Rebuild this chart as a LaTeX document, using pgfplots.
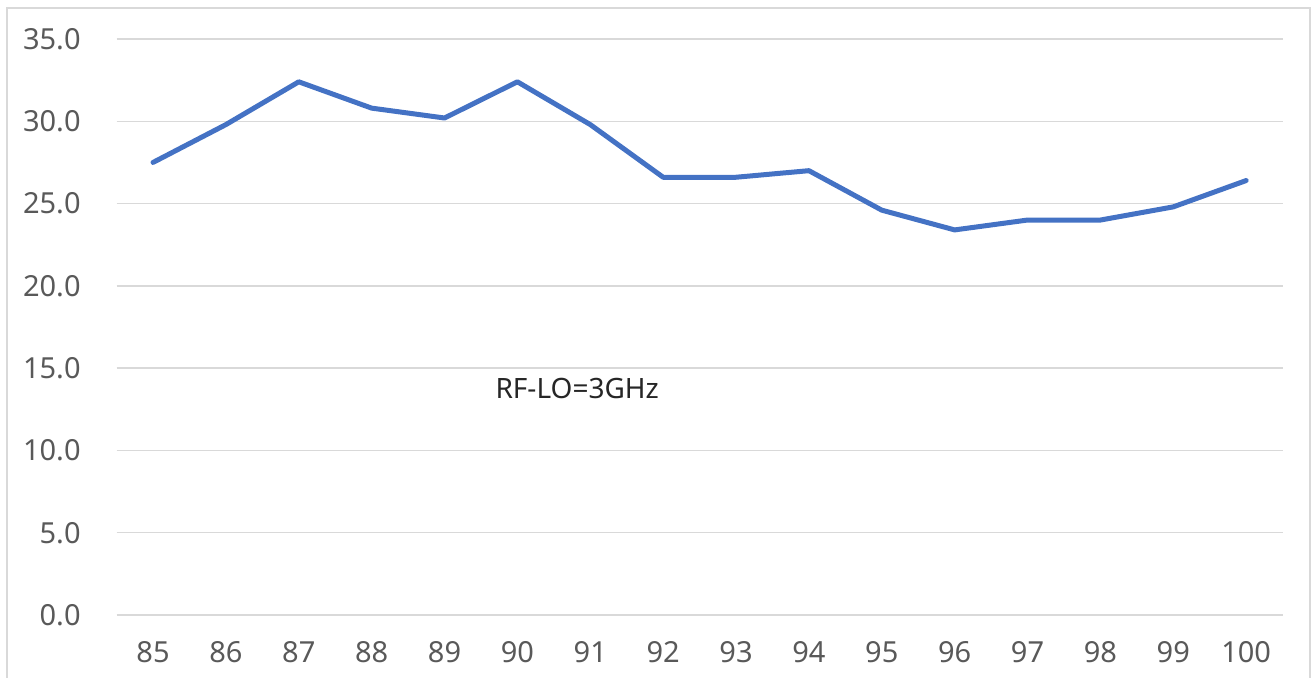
\documentclass[border=0pt]{standalone}
\usepackage{pgfplots}
\pgfplotsset{compat=1.18}
\usepackage{fontspec}
\setmainfont{Noto Sans}
\definecolor{linec}{HTML}{4472C4}
\definecolor{gridc}{HTML}{D9D9D9}
\definecolor{tickc}{HTML}{595959}
\begin{document}
\begin{tikzpicture}
\path[use as bounding box] (-58.3pt,-31pt) rectangle (597.7pt,307.5pt);
\draw[gridc, line width=0.75pt] (-54.8pt,-40pt) -- (-54.8pt,303.5pt) -- (596.7pt,303.5pt) -- (596.7pt,-40pt);
\begin{axis}[
  at={(0,0)}, anchor=south west,
  scale only axis, width=583pt, height=288pt,
  xmin=84.5, xmax=100.5, ymin=0, ymax=35,
  xtick={85,...,100}, ytick={0,5,...,35},
  axis line style={draw=none},
  major tick length=0pt,
  ymajorgrids, grid style={gridc, line width=0.75pt},
  /pgf/number format/assume math mode=true,
  y tick label style={/pgf/number format/fixed, /pgf/number format/fixed zerofill, /pgf/number format/precision=1, anchor=east, inner sep=0pt, xshift=-17.8pt, font=\fontsize{14.5}{17}\selectfont, text=tickc},
  x tick label style={anchor=base, inner sep=0pt, yshift=-23.5pt, font=\fontsize{14.5}{17}\selectfont, text=tickc, /pgf/number format/1000 sep={}},
  clip=false,
]
\addplot[linec, line width=2.5pt, line join=round, line cap=round] coordinates {
(85,27.5) (86,29.8) (87,32.4) (88,30.8) (89,30.2) (90,32.4) (91,29.8) (92,26.6)
(93,26.6) (94,27.0) (95,24.6) (96,23.4) (97,24.0) (98,24.0) (99,24.8) (100,26.4)
};
\node[font=\fontsize{14}{16}\selectfont, text={rgb,255:red,38;green,38;blue,38}, inner sep=0pt] at (axis cs:90.82,13.79) {RF-LO=3GHz};
\end{axis}
\end{tikzpicture}
\end{document}
